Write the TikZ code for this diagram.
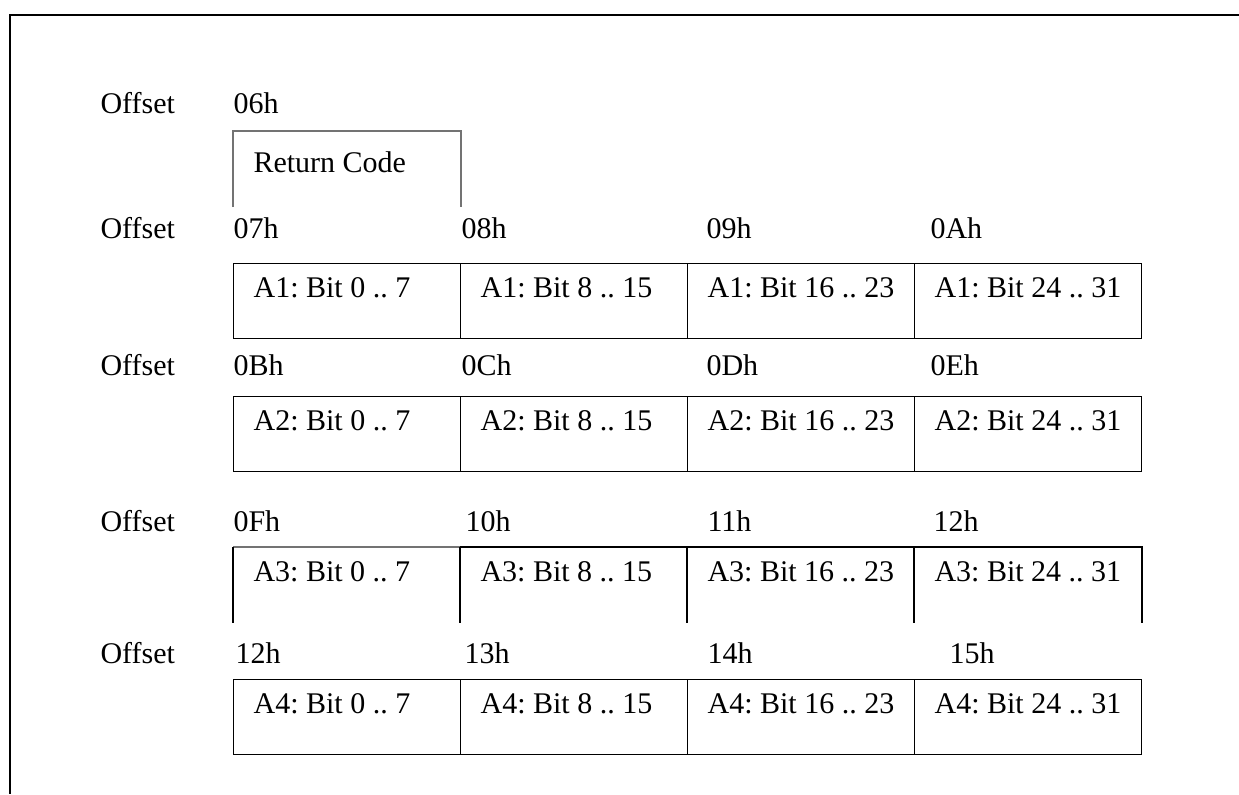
\documentclass[tikz,border=0pt]{standalone}
\usepackage{fontspec}
\setmainfont{Liberation Serif}
\begin{document}
\frenchspacing
\begin{tikzpicture}[x=0.4pt,y=-0.4pt,
  every node/.style={font=\fontsize{12}{14}\selectfont},
  lbl/.style={anchor=base west,inner sep=0pt},
  opencell/.style={anchor=north west,inner xsep=8pt,inner ysep=0pt,text width=74.8pt,
    align=flush left,text height=13.6pt,text depth=16.4pt},
  cellbox/.style={opencell,draw,line width=0.5pt},
  faint/.style={draw=black!55,line width=0.5pt},
  edge/.style={line width=0.5pt}]
\useasboundingbox (0,0) rectangle (1239,794);
\draw[line width=1.1pt] (1239,15) -- (10,15) -- (10,794);
% offset 06h
\node[lbl] (off1) at (100,113) {Offset};
\node[lbl] (h06) at (233,113) {06h};
\node[opencell,text height=16.4pt,text depth=13.6pt] (rc) at (233,131) {Return Code};
\draw[faint] (rc.south west) -- (rc.north west) -- (rc.north east) -- (rc.south east);
% A1
\node[lbl] (off2) at (100,238) {Offset};
\node[lbl] (h07) at (233,238) {07h};
\node[lbl] (h08) at (461,238) {08h};
\node[lbl] (h09) at (706,238) {09h};
\node[lbl] (h0A) at (930,238) {0Ah};
\node[cellbox] (a1a) at (233,263) {A1: Bit 0 .. 7};
\node[cellbox] (a1b) at (460,263) {A1: Bit 8 .. 15};
\node[cellbox] (a1c) at (687,263) {A1: Bit 16 .. 23};
\node[cellbox] (a1d) at (914,263) {A1: Bit 24 .. 31};
% A2
\node[lbl] (off3) at (100,375) {Offset};
\node[lbl] (h0B) at (233,375) {0Bh};
\node[lbl] (h0C) at (461,375) {0Ch};
\node[lbl] (h0D) at (706,375) {0Dh};
\node[lbl] (h0E) at (930,375) {0Eh};
\node[cellbox] (a2a) at (233,396) {A2: Bit 0 .. 7};
\node[cellbox] (a2b) at (460,396) {A2: Bit 8 .. 15};
\node[cellbox] (a2c) at (687,396) {A2: Bit 16 .. 23};
\node[cellbox] (a2d) at (914,396) {A2: Bit 24 .. 31};
% A3, no bottom line
\node[lbl] (off4) at (100,531) {Offset};
\node[lbl] (h0F) at (233,531) {0Fh};
\node[lbl] (h10) at (465,531) {10h};
\node[lbl] (h11) at (707,531) {11h};
\node[lbl] (h12a) at (933,531) {12h};
\node[opencell] (a3a) at (233,547) {A3: Bit 0 .. 7};
\node[opencell] (a3b) at (460,547) {A3: Bit 8 .. 15};
\node[opencell] (a3c) at (687,547) {A3: Bit 16 .. 23};
\node[opencell] (a3d) at (914,547) {A3: Bit 24 .. 31};
\draw[faint] (a3a.north west) -- (a3a.north east);
\draw[edge] (a3b.north west) -- (a3d.north east) -- (a3d.south east);
\draw[edge] (a3a.north west) -- (a3a.south west);
\draw[edge] (a3b.north west) -- (a3b.south west);
\draw[edge] (a3c.north west) -- (a3c.south west);
\draw[edge] (a3d.north west) -- (a3d.south west);
% A4
\node[lbl] (off5) at (100,663) {Offset};
\node[lbl] (h12b) at (235,663) {12h};
\node[lbl] (h13) at (464,663) {13h};
\node[lbl] (h14) at (707,663) {14h};
\node[lbl] (h15) at (949,663) {15h};
\node[cellbox] (a4a) at (233,679) {A4: Bit 0 .. 7};
\node[cellbox] (a4b) at (460,679) {A4: Bit 8 .. 15};
\node[cellbox] (a4c) at (687,679) {A4: Bit 16 .. 23};
\node[cellbox] (a4d) at (914,679) {A4: Bit 24 .. 31};
\end{tikzpicture}
\end{document}
